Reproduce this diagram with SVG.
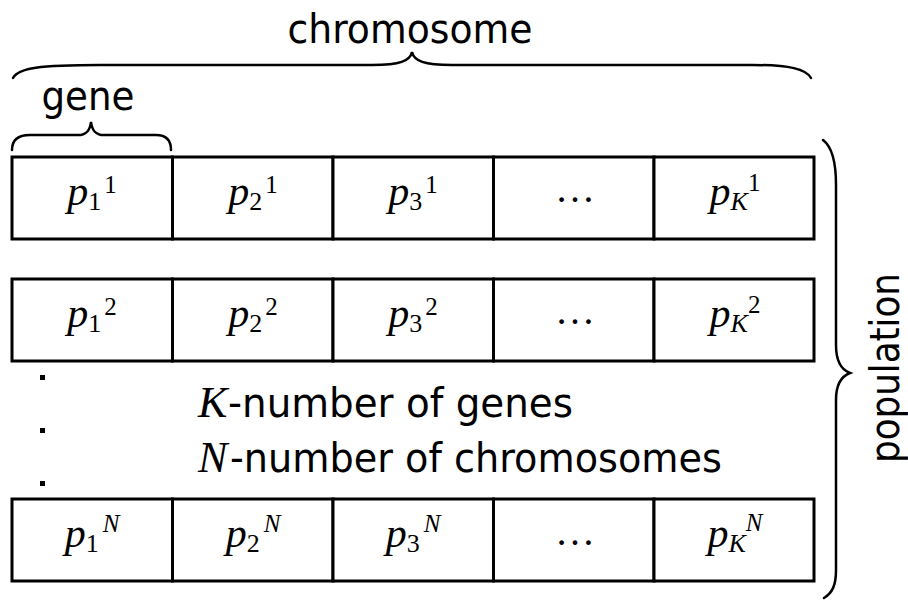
<svg xmlns="http://www.w3.org/2000/svg" width="908" height="602" viewBox="0 0 908 602">
<style>
.cell{fill:#fff;stroke:#000;stroke-width:3}
.m{font-family:"Liberation Serif","Times New Roman",serif;text-anchor:middle;fill:#000}
.pi{font-style:italic;font-size:42px}
.sub{font-size:26px}
.sup{font-size:25px}
.it{font-style:italic}
.lbl{font-family:"DejaVu Sans","Noto Sans",sans-serif;fill:#000}
.brace{fill:none;stroke:#000;stroke-width:2.5;stroke-linecap:round}
.ell{font-family:"Liberation Serif",serif;font-size:40px;text-anchor:middle}
</style>
<rect width="908" height="602" fill="#fff"/>
<!-- Row 1 -->
<g id="r1c1"><rect class="cell" x="12" y="157" width="160.5" height="82"/><text class="m" x="92" y="205"><tspan class="pi">p</tspan><tspan class="sub" dy="5">1</tspan><tspan class="sup" dx="3" dy="-17">1</tspan></text></g>
<g id="r1c2"><rect class="cell" x="172.5" y="157" width="160.5" height="82"/><text class="m" x="253" y="205"><tspan class="pi">p</tspan><tspan class="sub" dy="5">2</tspan><tspan class="sup" dx="3" dy="-17">1</tspan></text></g>
<g id="r1c3"><rect class="cell" x="333" y="157" width="160.5" height="82"/><text class="m" x="413" y="205"><tspan class="pi">p</tspan><tspan class="sub" dy="5">3</tspan><tspan class="sup" dx="3" dy="-17">1</tspan></text></g>
<g id="r1c4"><rect class="cell" x="493.5" y="157" width="160.5" height="82"/><text class="ell" x="575" y="202">…</text></g>
<g id="r1c5"><rect class="cell" x="654" y="157" width="160" height="82"/><text class="m" x="735" y="205"><tspan class="pi">p</tspan><tspan class="sub it" dy="5">K</tspan><tspan class="sup" dy="-19">1</tspan></text></g>
<!-- Row 2 -->
<g id="r2c1"><rect class="cell" x="12" y="279" width="160.5" height="82"/><text class="m" x="92" y="327"><tspan class="pi">p</tspan><tspan class="sub" dy="5">1</tspan><tspan class="sup" dx="3" dy="-17">2</tspan></text></g>
<g id="r2c2"><rect class="cell" x="172.5" y="279" width="160.5" height="82"/><text class="m" x="253" y="327"><tspan class="pi">p</tspan><tspan class="sub" dy="5">2</tspan><tspan class="sup" dx="3" dy="-17">2</tspan></text></g>
<g id="r2c3"><rect class="cell" x="333" y="279" width="160.5" height="82"/><text class="m" x="413" y="327"><tspan class="pi">p</tspan><tspan class="sub" dy="5">3</tspan><tspan class="sup" dx="3" dy="-17">2</tspan></text></g>
<g id="r2c4"><rect class="cell" x="493.5" y="279" width="160.5" height="82"/><text class="ell" x="575" y="324">…</text></g>
<g id="r2c5"><rect class="cell" x="654" y="279" width="160" height="82"/><text class="m" x="735" y="327"><tspan class="pi">p</tspan><tspan class="sub it" dy="5">K</tspan><tspan class="sup" dy="-19">2</tspan></text></g>
<!-- Row N -->
<g id="rNc1"><rect class="cell" x="12" y="499" width="160.5" height="82"/><text class="m" x="92" y="547"><tspan class="pi">p</tspan><tspan class="sub" dy="5">1</tspan><tspan class="sup it" dx="4" dy="-20">N</tspan></text></g>
<g id="rNc2"><rect class="cell" x="172.5" y="499" width="160.5" height="82"/><text class="m" x="253" y="547"><tspan class="pi">p</tspan><tspan class="sub" dy="5">2</tspan><tspan class="sup it" dx="4" dy="-20">N</tspan></text></g>
<g id="rNc3"><rect class="cell" x="333" y="499" width="160.5" height="82"/><text class="m" x="413" y="547"><tspan class="pi">p</tspan><tspan class="sub" dy="5">3</tspan><tspan class="sup it" dx="4" dy="-20">N</tspan></text></g>
<g id="rNc4"><rect class="cell" x="493.5" y="499" width="160.5" height="82"/><text class="ell" x="575" y="545">…</text></g>
<g id="rNc5"><rect class="cell" x="654" y="499" width="160" height="82"/><text class="m" x="735" y="547"><tspan class="pi">p</tspan><tspan class="sub it" dy="5">K</tspan><tspan class="sup it" dy="-21">N</tspan></text></g>
<!-- braces -->
<g id="braces">
<path class="brace" d="M13,78 C18,68 40,65 100,65 L372,65 C400,65 410,61 412,52 C414,61 424,65 452,65 L752,65 C790,65 806,69 811,78"/>
<path class="brace" d="M12,150 C12,140 18,135 30,135 L78,135 C87,135 90,130 91,122 C92,130 95,135 104,135 L156,135 C166,135 171,140 171,150"/>
<path class="brace" d="M823,140 C831,146 836,160 836,185 L836,345 C836,362 842,370 850,373 C842,376 836,384 836,400 L836,570 C836,586 832,593 824,598"/>
</g>
<!-- labels -->
<g id="labels">
<text class="lbl" x="410" y="43" font-size="41" text-anchor="middle" textLength="245" lengthAdjust="spacingAndGlyphs">chromosome</text>
<text class="lbl" x="88" y="110" font-size="41" text-anchor="middle" textLength="93" lengthAdjust="spacingAndGlyphs">gene</text>
<text class="m it" x="198" y="417" font-size="44" style="text-anchor:start">K</text>
<text class="lbl" x="228" y="417" font-size="41" textLength="345" lengthAdjust="spacingAndGlyphs">-number of genes</text>
<text class="m it" x="198" y="472" font-size="44" style="text-anchor:start">N</text>
<text class="lbl" x="230" y="472" font-size="41" textLength="492" lengthAdjust="spacingAndGlyphs">-number of chromosomes</text>
<text class="lbl" transform="translate(899,368) rotate(-90)" font-size="40" text-anchor="middle" textLength="190" lengthAdjust="spacingAndGlyphs">population</text>
<rect x="40" y="375" width="5" height="5"/>
<rect x="40" y="428" width="5" height="5"/>
<rect x="40" y="481" width="5" height="5"/>
</g>
</svg>
